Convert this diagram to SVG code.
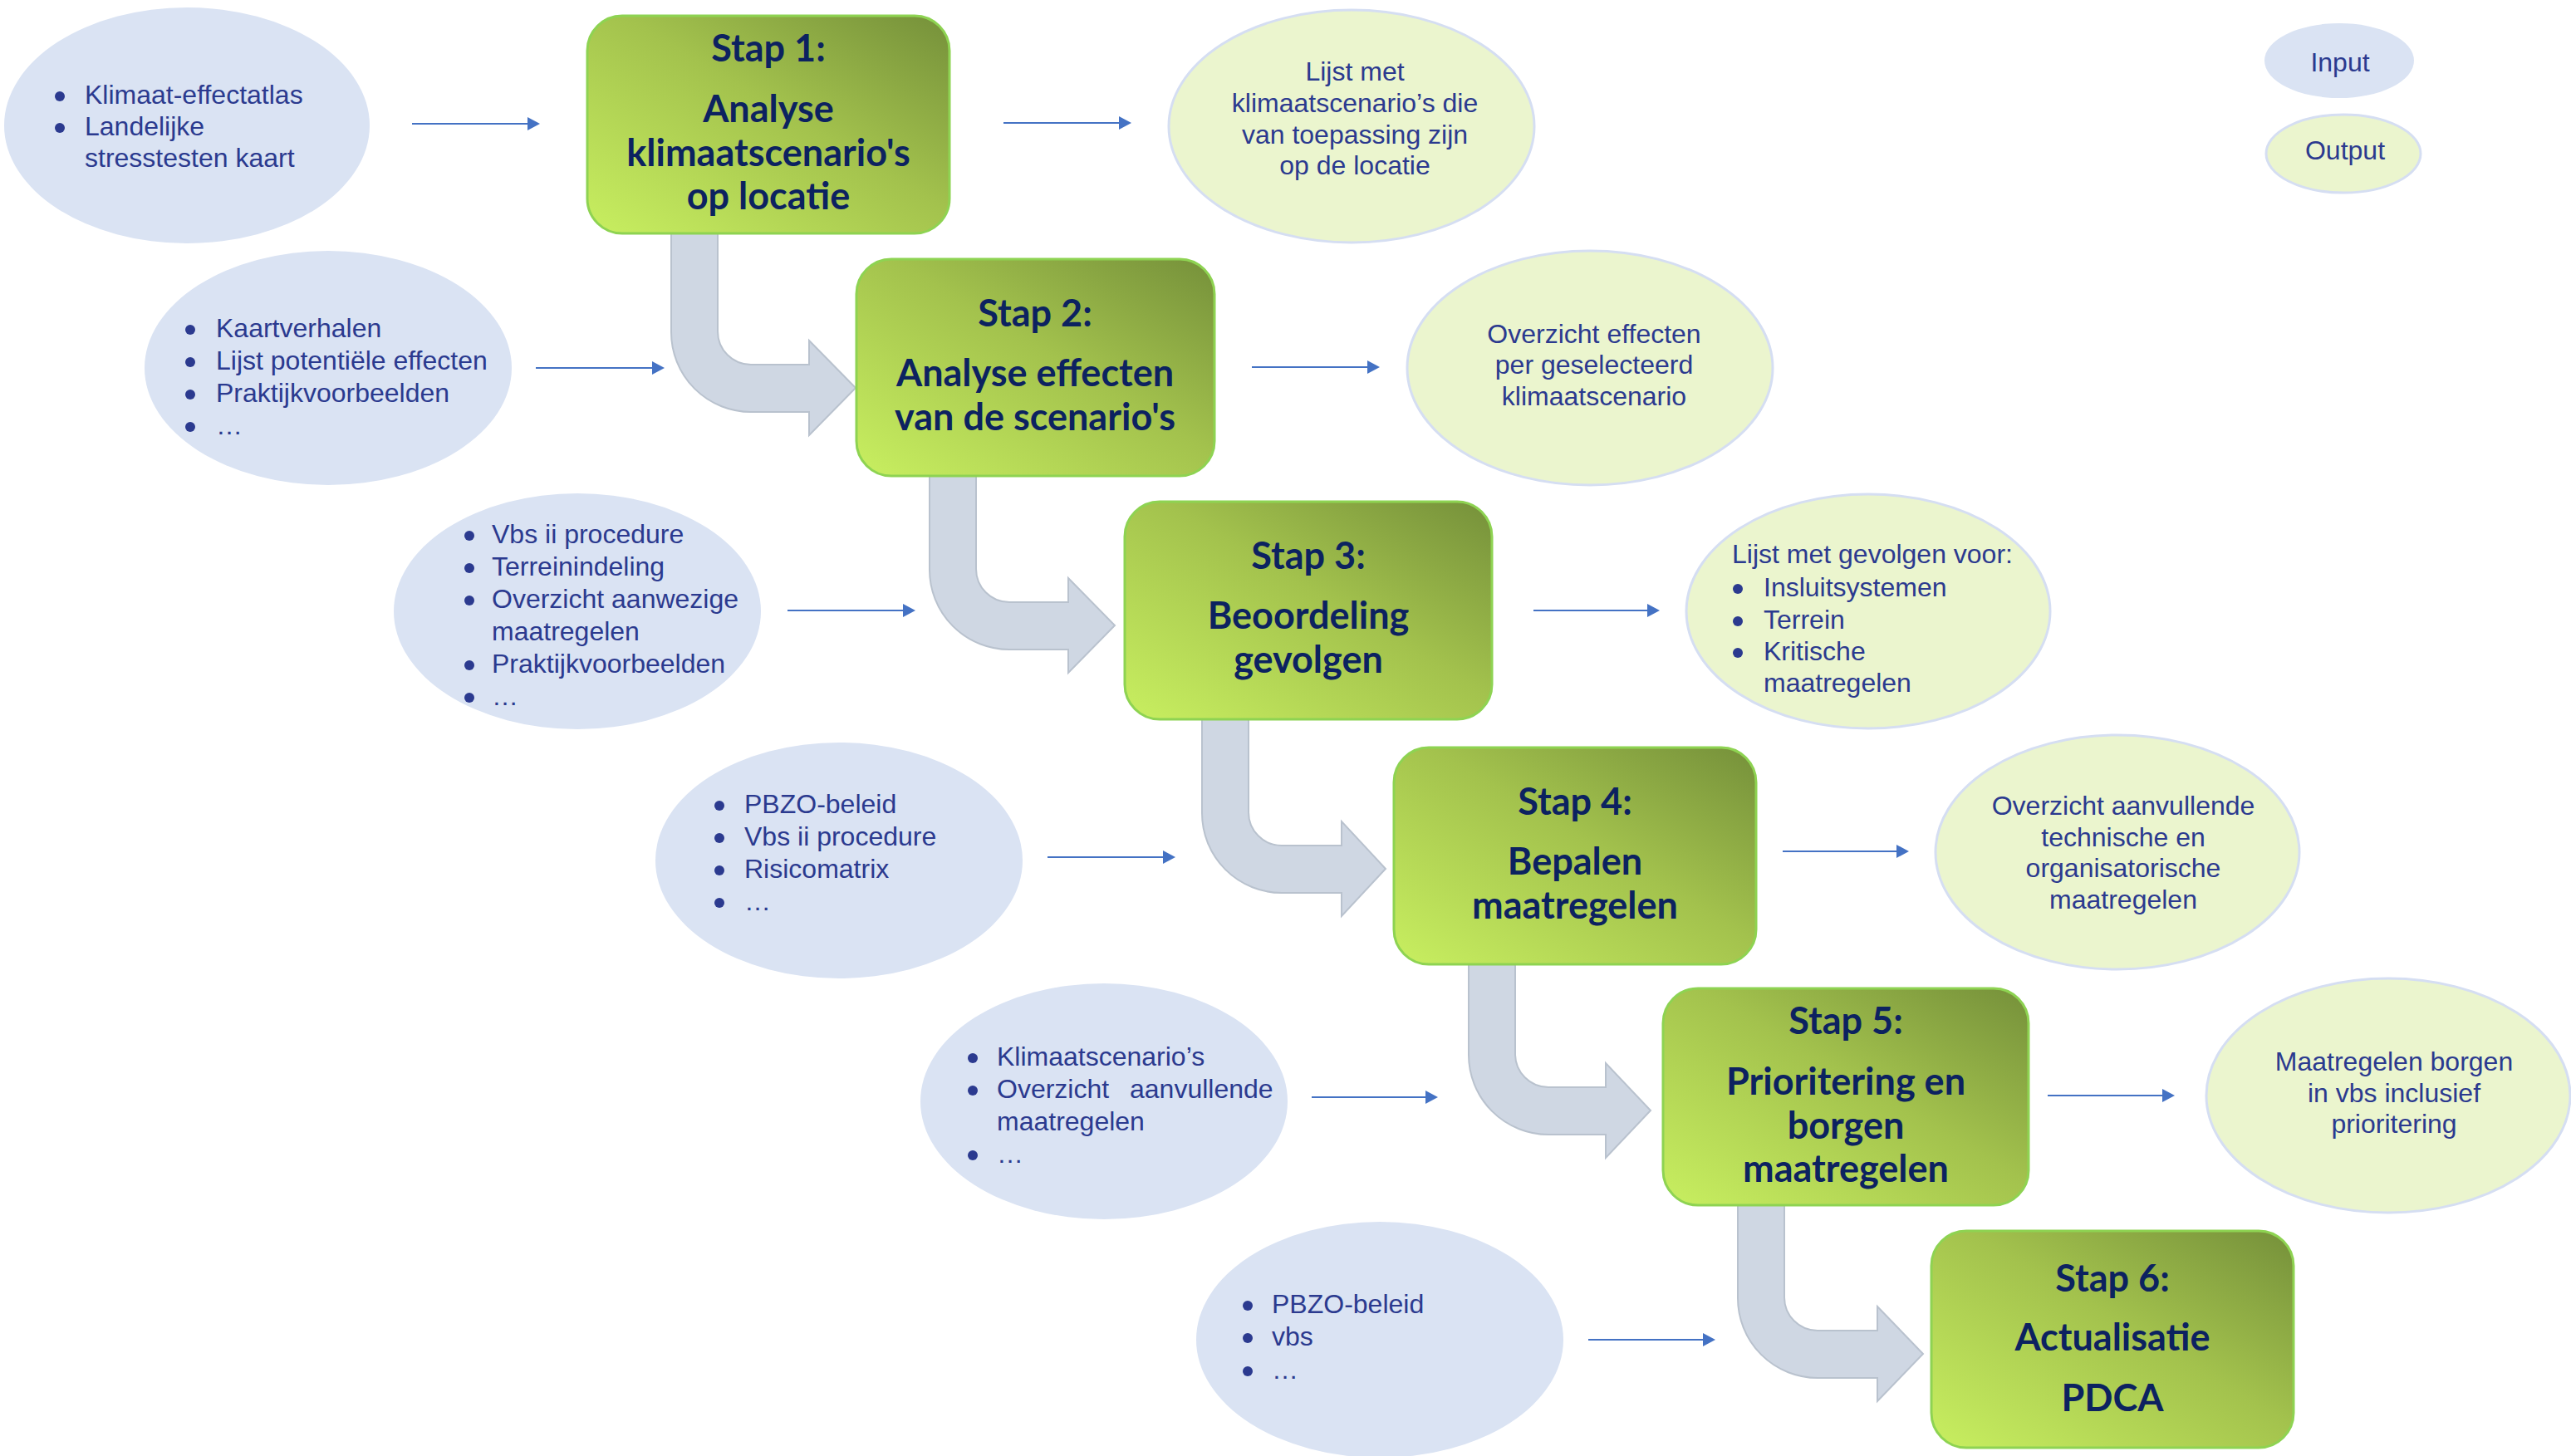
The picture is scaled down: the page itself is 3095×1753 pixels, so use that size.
<svg xmlns="http://www.w3.org/2000/svg" width="3095" height="1753" viewBox="0 0 3095 1753">
<defs>
<linearGradient id="gb" x1="0" y1="1" x2="1" y2="0">
<stop offset="0" stop-color="#C8EF60"/>
<stop offset="0.55" stop-color="#A3C24D"/>
<stop offset="1" stop-color="#75903A"/>
</linearGradient>
<marker id="ah" markerUnits="userSpaceOnUse" markerWidth="16" markerHeight="16" viewBox="0 0 16 16" refX="7" refY="8" orient="auto">
<path d="M0,0 L15,8 L0,16 Z" fill="#4472C4"/>
</marker>
<style>
.box{fill:url(#gb);stroke:#8ED352;stroke-width:3}
.bt{font-family:Lato,"Liberation Sans",sans-serif;font-weight:bold;font-size:45px;fill:#0C2260;text-anchor:middle}
.in{fill:#DAE3F3}
.out{fill:#EBF5CE;stroke:#D5DEF2;stroke-width:3}
.t{font-family:"Liberation Sans",Arial,sans-serif;font-size:32px;fill:#2B3A8F}
.c{text-anchor:middle}
.b{fill:#2B3A8F}
.ln{stroke:#4472C4;stroke-width:2;fill:none;marker-end:url(#ah)}
.bend{fill:#CFD7E3;stroke:#B9C2CE;stroke-width:2}
</style>
</defs>
<rect width="3095" height="1753" fill="#FFFFFF"/>

<g id="connectors">
<path class="bend" d="M808,276 L864,276 L864,399 A40,40 0 0 0 904,439 L974,439 L974,410 L1030,467 L974,524 L974,496 L904,496 A96,96 0 0 1 808,400 Z"/>
<path class="bend" d="M1119,568 L1175,568 L1175,685 A40,40 0 0 0 1215,725 L1286,725 L1286,696 L1342,753 L1286,810 L1286,782 L1215,782 A96,96 0 0 1 1119,686 Z"/>
<path class="bend" d="M1447,861 L1503,861 L1503,978 A40,40 0 0 0 1543,1018 L1615,1018 L1615,989 L1668,1046 L1615,1103 L1615,1075 L1543,1075 A96,96 0 0 1 1447,979 Z"/>
<path class="bend" d="M1768,1156 L1824,1156 L1824,1269 A40,40 0 0 0 1864,1309 L1933,1309 L1933,1280 L1987,1337 L1933,1394 L1933,1366 L1864,1366 A96,96 0 0 1 1768,1270 Z"/>
<path class="bend" d="M2092,1446 L2148,1446 L2148,1562 A40,40 0 0 0 2188,1602 L2260,1602 L2260,1573 L2315,1630 L2260,1687 L2260,1659 L2188,1659 A96,96 0 0 1 2092,1563 Z"/>
<line class="ln" x1="496" y1="149" x2="642" y2="149"/>
<line class="ln" x1="645" y1="443" x2="792" y2="443"/>
<line class="ln" x1="948" y1="735" x2="1094" y2="735"/>
<line class="ln" x1="1261" y1="1032" x2="1407" y2="1032"/>
<line class="ln" x1="1579" y1="1321" x2="1723" y2="1321"/>
<line class="ln" x1="1912" y1="1613" x2="2057" y2="1613"/>
<line class="ln" x1="1208" y1="148" x2="1354" y2="148"/>
<line class="ln" x1="1507" y1="442" x2="1653" y2="442"/>
<line class="ln" x1="1846" y1="735" x2="1990" y2="735"/>
<line class="ln" x1="2146" y1="1025" x2="2290" y2="1025"/>
<line class="ln" x1="2465" y1="1319" x2="2610" y2="1319"/>
</g>

<g id="step1">
<rect class="box" x="707" y="19" width="436" height="262" rx="42"/>
<text class="bt" x="925" y="74">Stap 1:</text>
<text class="bt" x="925" y="147">Analyse</text>
<text class="bt" x="925" y="200">klimaatscenario's</text>
<text class="bt" x="925" y="252">op locatie</text>
</g>
<g id="step2">
<rect class="box" x="1031" y="312" width="431" height="261" rx="42"/>
<text class="bt" x="1246" y="393">Stap 2:</text>
<text class="bt" x="1246" y="465">Analyse effecten</text>
<text class="bt" x="1246" y="518">van de scenario's</text>
</g>
<g id="step3">
<rect class="box" x="1354" y="604" width="442" height="262" rx="42"/>
<text class="bt" x="1575" y="685">Stap 3:</text>
<text class="bt" x="1575" y="757">Beoordeling</text>
<text class="bt" x="1575" y="810">gevolgen</text>
</g>
<g id="step4">
<rect class="box" x="1678" y="900" width="436" height="261" rx="42"/>
<text class="bt" x="1896" y="981">Stap 4:</text>
<text class="bt" x="1896" y="1053">Bepalen</text>
<text class="bt" x="1896" y="1106">maatregelen</text>
</g>
<g id="step5">
<rect class="box" x="2002" y="1190" width="440" height="261" rx="42"/>
<text class="bt" x="2222" y="1245">Stap 5:</text>
<text class="bt" x="2222" y="1318">Prioritering en</text>
<text class="bt" x="2222" y="1371">borgen</text>
<text class="bt" x="2222" y="1423">maatregelen</text>
</g>
<g id="step6">
<rect class="box" x="2325" y="1482" width="436" height="261" rx="42"/>
<text class="bt" x="2543" y="1555">Stap 6:</text>
<text class="bt" x="2543" y="1626">Actualisatie</text>
<text class="bt" x="2543" y="1699">PDCA</text>
</g>

<g id="input1">
<ellipse class="in" cx="225" cy="151" rx="220" ry="142"/>
<circle class="b" cx="72" cy="116" r="6"/>
<circle class="b" cx="72" cy="154" r="6"/>
<text class="t" x="102" y="125">Klimaat-effectatlas</text>
<text class="t" x="102" y="163">Landelijke</text>
<text class="t" x="102" y="201">stresstesten kaart</text>
</g>
<g id="input2">
<ellipse class="in" cx="395" cy="443" rx="221" ry="141"/>
<circle class="b" cx="229" cy="397" r="6"/>
<circle class="b" cx="229" cy="436" r="6"/>
<circle class="b" cx="229" cy="475" r="6"/>
<circle class="b" cx="229" cy="514" r="6"/>
<text class="t" x="260" y="406">Kaartverhalen</text>
<text class="t" x="260" y="445">Lijst potentiële effecten</text>
<text class="t" x="260" y="484">Praktijkvoorbeelden</text>
<text class="t" x="260" y="523">…</text>
</g>
<g id="input3">
<ellipse class="in" cx="695" cy="736" rx="221" ry="142"/>
<circle class="b" cx="565" cy="645" r="6"/>
<circle class="b" cx="565" cy="684" r="6"/>
<circle class="b" cx="565" cy="723" r="6"/>
<circle class="b" cx="565" cy="801" r="6"/>
<circle class="b" cx="565" cy="840" r="6"/>
<text class="t" x="592" y="654">Vbs ii procedure</text>
<text class="t" x="592" y="693">Terreinindeling</text>
<text class="t" x="592" y="732">Overzicht aanwezige</text>
<text class="t" x="592" y="771">maatregelen</text>
<text class="t" x="592" y="810">Praktijkvoorbeelden</text>
<text class="t" x="592" y="849">…</text>
</g>
<g id="input4">
<ellipse class="in" cx="1010" cy="1036" rx="221" ry="142"/>
<circle class="b" cx="866" cy="970" r="6"/>
<circle class="b" cx="866" cy="1009" r="6"/>
<circle class="b" cx="866" cy="1048" r="6"/>
<circle class="b" cx="866" cy="1087" r="6"/>
<text class="t" x="896" y="979">PBZO-beleid</text>
<text class="t" x="896" y="1018">Vbs ii procedure</text>
<text class="t" x="896" y="1057">Risicomatrix</text>
<text class="t" x="896" y="1096">…</text>
</g>
<g id="input5">
<ellipse class="in" cx="1329" cy="1326" rx="221" ry="142"/>
<circle class="b" cx="1171" cy="1274" r="6"/>
<circle class="b" cx="1171" cy="1313" r="6"/>
<circle class="b" cx="1171" cy="1391" r="6"/>
<text class="t" x="1200" y="1283">Klimaatscenario’s</text>
<text class="t" y="1322"><tspan x="1200">Overzicht</tspan> <tspan x="1360">aanvullende</tspan></text>
<text class="t" x="1200" y="1361">maatregelen</text>
<text class="t" x="1200" y="1400">…</text>
</g>
<g id="input6">
<ellipse class="in" cx="1661" cy="1613" rx="221" ry="142"/>
<circle class="b" cx="1502" cy="1572" r="6"/>
<circle class="b" cx="1502" cy="1611" r="6"/>
<circle class="b" cx="1502" cy="1651" r="6"/>
<text class="t" x="1531" y="1581">PBZO-beleid</text>
<text class="t" x="1531" y="1620">vbs</text>
<text class="t" x="1531" y="1660">…</text>
</g>

<g id="output1">
<ellipse class="out" cx="1627" cy="152" rx="220" ry="140"/>
<text class="t c" x="1631" y="97">Lijst met</text>
<text class="t c" x="1631" y="135">klimaatscenario’s die</text>
<text class="t c" x="1631" y="173">van toepassing zijn</text>
<text class="t c" x="1631" y="210">op de locatie</text>
</g>
<g id="output2">
<ellipse class="out" cx="1914" cy="443" rx="220" ry="141"/>
<text class="t c" x="1919" y="413">Overzicht effecten</text>
<text class="t c" x="1919" y="450">per geselecteerd</text>
<text class="t c" x="1919" y="488">klimaatscenario</text>
</g>
<g id="output3">
<ellipse class="out" cx="2249" cy="736" rx="219" ry="141"/>
<text class="t" x="2085" y="678">Lijst met gevolgen voor:</text>
<circle class="b" cx="2092" cy="709" r="6"/>
<circle class="b" cx="2092" cy="748" r="6"/>
<circle class="b" cx="2092" cy="786" r="6"/>
<text class="t" x="2123" y="718">Insluitsystemen</text>
<text class="t" x="2123" y="757">Terrein</text>
<text class="t" x="2123" y="795">Kritische</text>
<text class="t" x="2123" y="833">maatregelen</text>
</g>
<g id="output4">
<ellipse class="out" cx="2549" cy="1026" rx="219" ry="141"/>
<text class="t c" x="2556" y="981">Overzicht aanvullende</text>
<text class="t c" x="2556" y="1019">technische en</text>
<text class="t c" x="2556" y="1056">organisatorische</text>
<text class="t c" x="2556" y="1094">maatregelen</text>
</g>
<g id="output5">
<ellipse class="out" cx="2875" cy="1319" rx="219" ry="141"/>
<text class="t c" x="2882" y="1289">Maatregelen borgen</text>
<text class="t c" x="2882" y="1327">in vbs inclusief</text>
<text class="t c" x="2882" y="1364">prioritering</text>
</g>

<g id="legend-input">
<ellipse class="in" cx="2816" cy="73" rx="90" ry="45"/>
<text class="t c" x="2817" y="86">Input</text>
</g>
<g id="legend-output">
<ellipse class="out" cx="2821" cy="185" rx="93" ry="47"/>
<text class="t c" x="2823" y="192">Output</text>
</g>
</svg>
